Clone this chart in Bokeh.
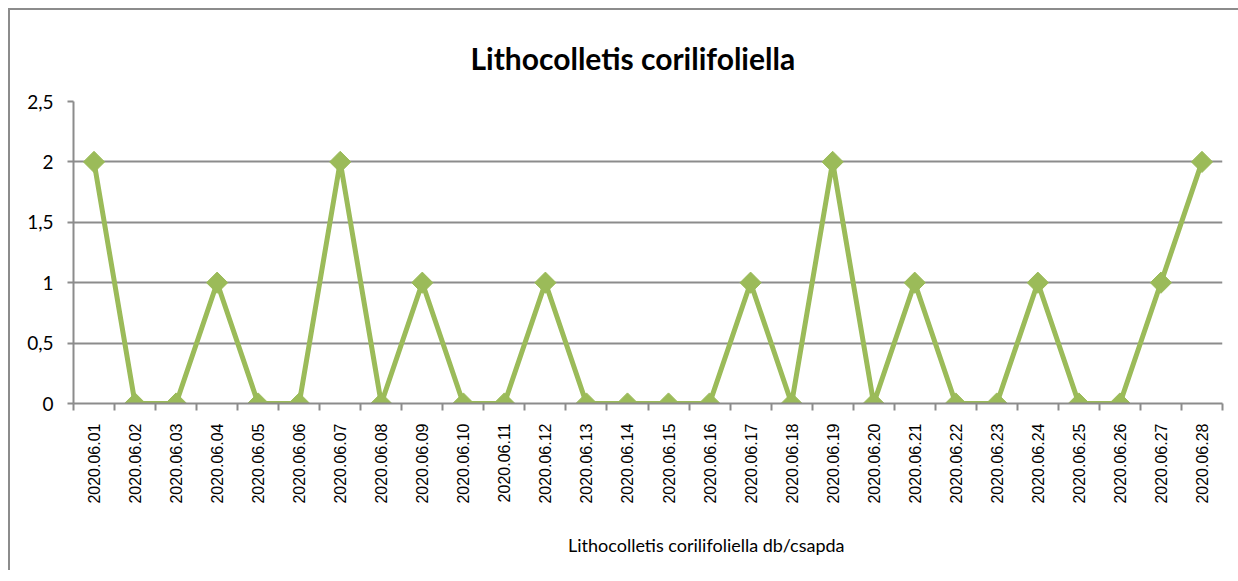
import numpy as np
from bokeh.plotting import figure
from bokeh.layouts import column
from bokeh.models import FixedTicker, Legend, LegendItem, ColumnDataSource, Range1d
from bokeh.embed import file_html
from bokeh.resources import INLINE

dates = ["2020.06.%02d" % d for d in range(1, 29)]
values = [2, 0, 0, 1, 0, 0, 2, 0, 1, 0, 0, 1, 0, 0, 0, 0, 1, 0, 2, 0, 1, 0, 0, 1, 0, 0, 1, 2]
y_ticks = [0, 0.5, 1, 1.5, 2, 2.5]
y_labels = ["0", "0,5", "1", "1,5", "2", "2,5"]
series_name = "Lithocolletis corilifoliella db/csapda"
title = "Lithocolletis corilifoliella"

GREEN = "#9BBB59"
GRAY = "#8c8c8c"

n = len(dates)
centers = list(np.arange(n) + 0.5)
bounds = list(range(n + 1))
src = ColumnDataSource(dict(x=centers, y=values, d=dates))

p = figure(frame_width=1147, frame_height=300, output_backend="svg", toolbar_location=None,
           x_range=Range1d(0, n), y_range=Range1d(0, 2.5),
           min_border_left=63, min_border_right=18, min_border_top=91, min_border_bottom=0,
           styles={"border-top": "2px solid #8c8c8c", "border-left": "2px solid #8c8c8c"})
p.outline_line_color = None
p.title.text = title
p.title.align = "left"
p.title.offset = 397
p.title.text_font = "Lato"
p.title.text_font_size = "30px"
p.title.text_font_style = "bold"
p.title.text_color = "black"
p.title.standoff = 52

# x axis
p.xaxis.ticker = FixedTicker(ticks=centers, minor_ticks=bounds)
p.xaxis.major_label_overrides = {float(c): d for c, d in zip(centers, dates)}
p.xaxis.major_label_orientation = np.pi / 2
p.xaxis.major_tick_line_color = None
p.xaxis.minor_tick_line_color = GRAY
p.xaxis.minor_tick_line_width = 2
p.xaxis.minor_tick_out = 7
p.xaxis.minor_tick_in = 0
p.xaxis.axis_line_color = GRAY
p.xaxis.axis_line_width = 2
p.xaxis.major_label_text_font = "Liberation Sans"
p.xaxis.major_label_text_font_size = "16px"
p.xaxis.major_label_text_color = "black"
p.xaxis.major_label_standoff = 13
p.xgrid.grid_line_color = None

# y axis
p.yaxis.ticker = FixedTicker(ticks=y_ticks)
p.yaxis.major_label_overrides = {float(t): l for t, l in zip(y_ticks, y_labels)}
p.yaxis.major_tick_line_color = GRAY
p.yaxis.major_tick_line_width = 2
p.yaxis.major_tick_out = 6
p.yaxis.major_tick_in = 0
p.yaxis.minor_tick_line_color = None
p.yaxis.axis_line_color = GRAY
p.yaxis.axis_line_width = 2
p.yaxis.major_label_text_font = "Lato"
p.yaxis.major_label_text_font_size = "19px"
p.yaxis.major_label_text_color = "black"
p.yaxis.major_label_standoff = 14
p.ygrid.grid_line_color = GRAY
p.ygrid.grid_line_width = 2

p.line("x", "y", source=src, line_color=GREEN, line_width=5)
p.scatter("x", "y", source=src, marker="square", angle=np.pi / 4, size=15,
          fill_color=GREEN, line_color=GREEN)

# legend strip below the chart
p2 = figure(width=1228, height=66, output_backend="svg", toolbar_location=None,
            x_range=Range1d(0, 1), y_range=Range1d(0, 1), min_border=0,
            styles={"border-left": "2px solid #8c8c8c"})
p2.axis.visible = False
p2.grid.grid_line_color = None
p2.outline_line_color = None
lsrc = ColumnDataSource(dict(x=[], y=[]))
ln2 = p2.line("x", "y", source=lsrc, line_color=GREEN, line_width=5)
mk2 = p2.scatter("x", "y", source=lsrc, marker="square", angle=np.pi / 4, size=10,
                 fill_color=GREEN, line_color=GREEN)
legend = Legend(items=[LegendItem(label=series_name, renderers=[ln2, mk2])],
                location=(436, 14), orientation="horizontal",
                label_text_font="Lato", label_text_font_size="18px",
                label_text_color="black", glyph_width=55, glyph_height=20,
                border_line_color=None, background_fill_alpha=0, padding=4, margin=0,
                label_standoff=4)
p2.add_layout(legend, "center")

layout = column(p, p2, spacing=0, styles={"margin-left": "8px", "margin-top": "8px"})

open("out.html", "w").write(file_html(layout, INLINE))
